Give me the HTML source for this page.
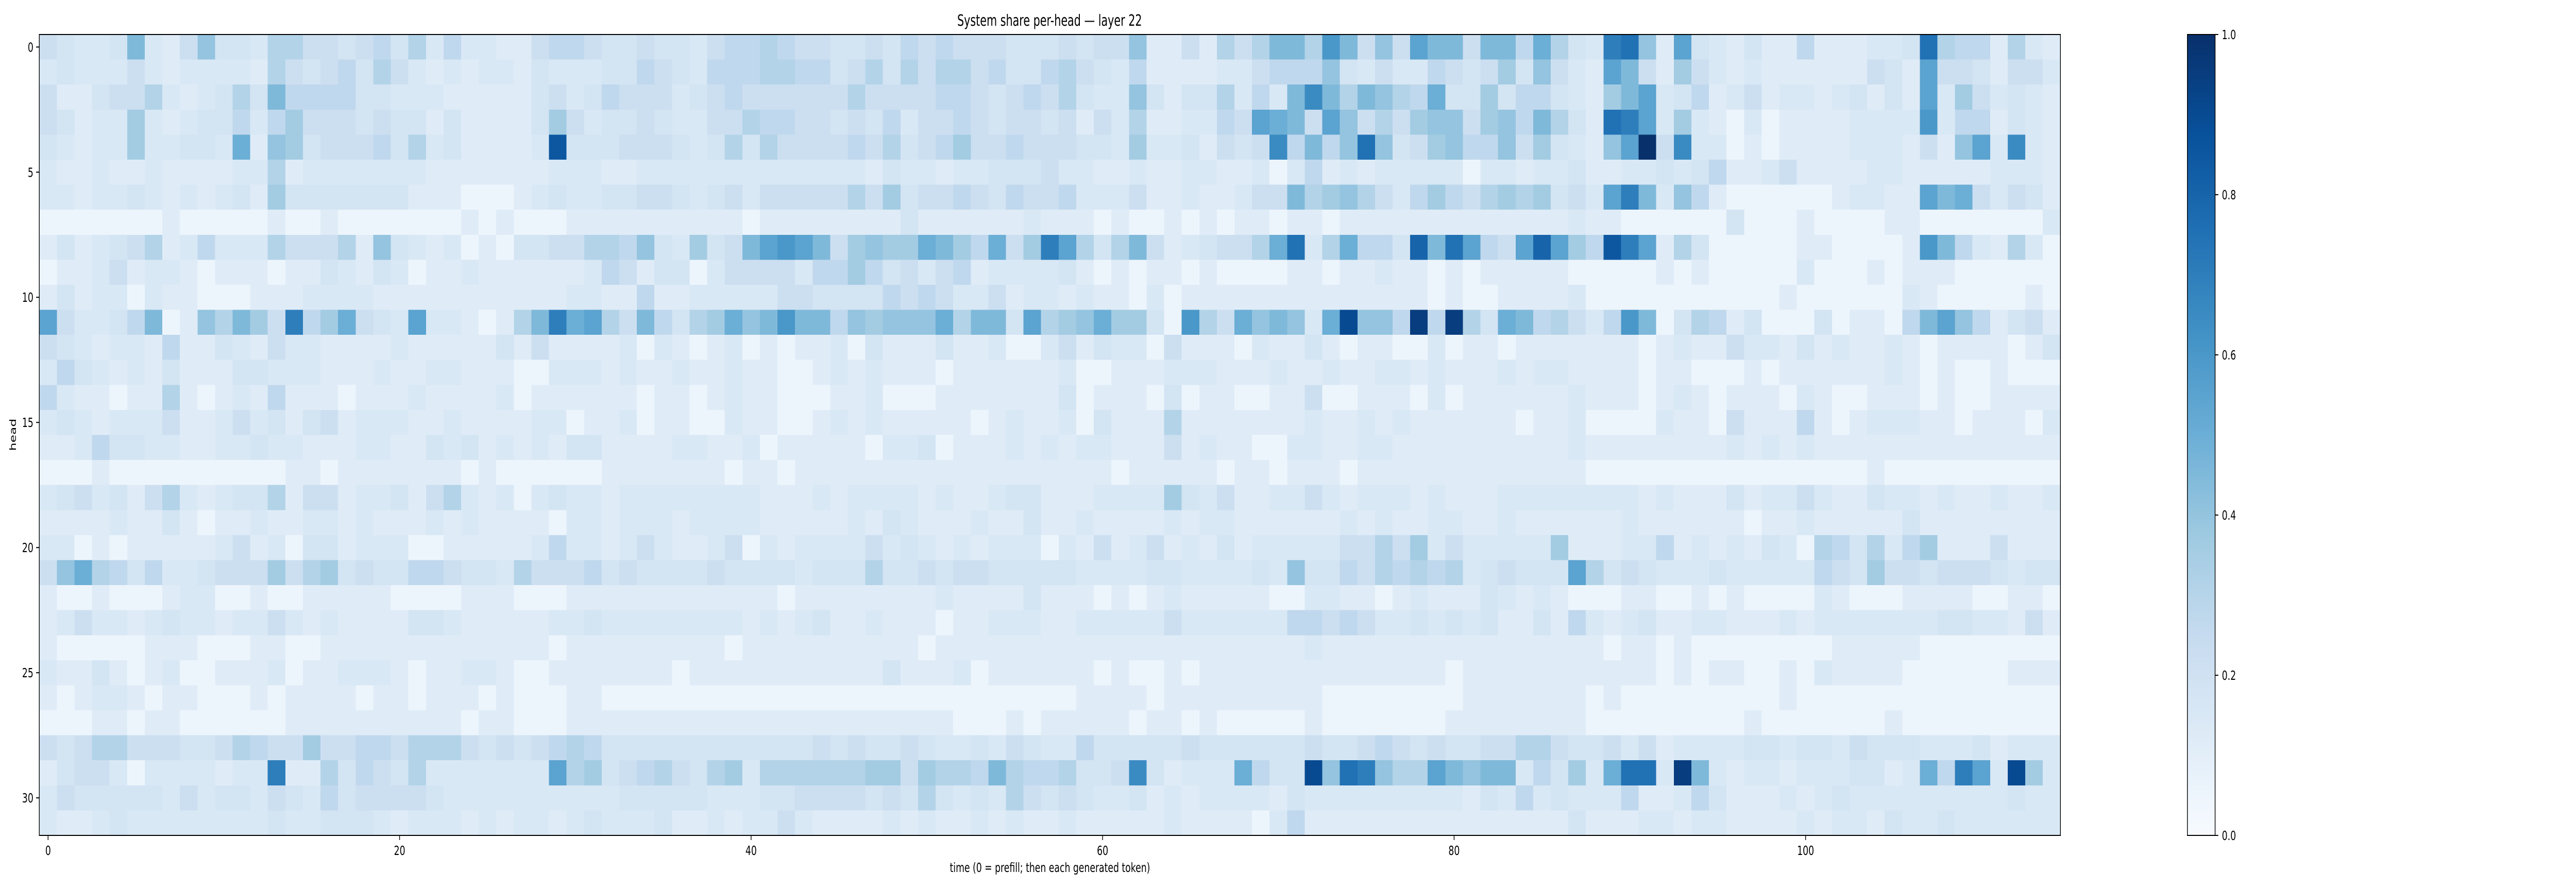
<!DOCTYPE html>
<html>
<head>
<meta charset="utf-8">
<style>
  html, body { margin: 0; padding: 0; background: #ffffff; width: 100%; height: 100%; overflow: hidden; }
  svg { display: block; width: 100vw; height: 100vh; font-family: "DejaVu Sans", "Liberation Sans", sans-serif; }
</style>
</head>
<body>
<svg id="chart" xmlns="http://www.w3.org/2000/svg" viewBox="0 0 7245 1728" preserveAspectRatio="none">
  <rect x="0" y="0" width="7245" height="1728" fill="#ffffff"/>
  <text x="2952" y="50" font-size="30" text-anchor="middle" fill="#000">System share per-head — layer 22</text>
  <g id="cells" shape-rendering="crispEdges"></g>
  <rect x="110.5" y="67" width="5684.5" height="1555" fill="none" stroke="#000" stroke-width="2"/>
  <g id="xticks"></g>
  <g id="yticks"></g>
  <text x="2953" y="1693" font-size="25" text-anchor="middle" fill="#000">time (0 = prefill; then each generated token)</text>
  <text x="0" y="0" font-size="25" text-anchor="middle" fill="#000" transform="translate(45,844) rotate(-90)">head</text>
  <defs>
    <linearGradient id="cbgrad" x1="0" y1="1" x2="0" y2="0">
      <stop offset="0" stop-color="#f7fbff"/>
      <stop offset="0.125" stop-color="#deebf7"/>
      <stop offset="0.25" stop-color="#c6dbef"/>
      <stop offset="0.375" stop-color="#9ecae1"/>
      <stop offset="0.5" stop-color="#6baed6"/>
      <stop offset="0.625" stop-color="#4292c6"/>
      <stop offset="0.75" stop-color="#2171b5"/>
      <stop offset="0.875" stop-color="#08519c"/>
      <stop offset="1" stop-color="#08306b"/>
    </linearGradient>
  </defs>
  <rect x="6152" y="67" width="78" height="1555" fill="url(#cbgrad)" stroke="#000" stroke-width="2"/>
  <g id="cbticks"></g>
</svg>
<script>
// ---- data ----
const times = Array.from({length: 115}, (_, i) => i);
const heads = Array.from({length: 32}, (_, i) => i);
const xTickLabels = ["0", "20", "40", "60", "80", "100"];
const yTickLabels = ["0", "5", "10", "15", "20", "25", "30"];
const cbTickLabels = ["0.0", "0.2", "0.4", "0.6", "0.8", "1.0"];
// each char is a level code (see codeValues), one string per head, columns = time 0..114
const codeChars = "0123456789ABCDEFGHIJK";
const codeValues = [0.05, 0.12, 0.15, 0.18, 0.22, 0.27, 0.31, 0.36, 0.40, 0.45, 0.50, 0.55, 0.60, 0.65, 0.70, 0.75, 0.80, 0.85, 0.90, 0.95, 1.00];
const shareRows = [
  "432239214833266443453625221145" + "5433433245565443343545444333" + "434481141646996C9484B994995A63" + "2EF81B3213115111223F6551621",
  "232224212222164345364212122132" + "2233543255566553463646645335" + "643251111224555832422543473842" + "1B94174212111111431B4431442",
  "411344621236395555332221111134" + "2354442345444444644445543454" + "63228313362529D969865A33735532" + "179B235124122123131B2742321",
  "431227212335257444343313111137" + "4233432244655443435244543443" + "41426112254BA94B84647884785963" + "1FEB272102011112222C2551321",
  "32122722332A18734445362311112H" + "3334443236364444546345744544" + "433272231434D5958F834785584732" + "18BK4D2201011112221418B2D21",
  "211211211112261222222211111112" + "2211222222222222213221223334" + "221121122112025121222220221223" + "112232351124111122111112221",
  "221223212123173333333111000123" + "2233443234244444647344543544" + "522241121124496786425754676734" + "2BE9285100000012211B9A42431",
  "000000010000010010000000101000" + "1111111111011111111311111121" + "110100101011011011111111111112" + "110000003000100001100000002",
  "131234612522264446183212010334" + "46658327349BCB947877A975A47E" + "B63694123446AF26A553G9FB54BGB7" + "5HEB163000001100001C9521620",
  "011241221011101132132011211111" + "1254133024444255753424512222" + "310101101000011011211010111110" + "000010100000200010111000000",
  "131220211000111222211111111111" + "2211511222224433335454224122" + "121102011111111111111010011112" + "000000000001000000210000010",
  "B4223590186974E57A432B2210169E" + "AB6495367A89C99587888A6993B6" + "78A7730C64A8982AI885J5J63A9564" + "25C90365130003011059B851341",
  "432122151132142211112111113141" + "1112021012010112031113112002" + "413220411102113101100201101111" + "111012114221312112101111013",
  "253212131113322211121122111002" + "2212112112110012121110111111" + "200111222111211211221211121221" + "111011000101111112101001000",
  "521101161012151110111211112011" + "1111011012110001120001111111" + "301110301100114001110201111112" + "111012101110210011101001111",
  "232122241124231341222112111122" + "0112011002110012121111101211" + "203111611111112112121111110112" + "000021104111510122211011102",
  "112533221122322111221132312121" + "3311112211201111102230111212" + "122111412110022112211111111112" + "111111112121211111111111111",
  "000100000000001101111111010000" + "0011111110110111111111111111" + "111011111011011101111111111111" + "000000000000000010000000000",
  "234231462123361441223146212023" + "2212222222211121222212112331" + "112222732411224212221211122222" + "222121113122421132212112112",
  "111121131011211221211121211110" + "2212221222211111213211121131" + "121111212211111121211221121111" + "112111111011211111311111111",
  "220101111124120331222001111125" + "2212421124021222242321212220" + "214124121312222244647242222271" + "112251212132065362571114111",
  "48A653522344474673433554332644" + "4534333343333233363343443333" + "32222332222328335465656234333B" + "634322232222254374434443233",
  "100100012200100111110000111000" + "1111111111110111111112111131" + "110101211111002211012111321210" + "001100101000021000111100110",
  "124221232212242121111332111112" + "2322222222121231121110112221" + "122222422222255454223232311315" + "212311221112122222223322141",
  "100000111000110011111111111110" + "1111111110111111111101111111" + "111111111111112111111111111111" + "101101000000001111100000000",
  "211310120011120112221011221001" + "1111110111111111113111201111" + "110100101111111111111101111111" + "111101011001021111000000111",
  "101221011000101111011011101000" + "1100000000000000000000000000" + "011110111111111000000001111111" + "010000000001000000000000000",
  "000110110000001111111111011000" + "1111111111111111111111000101" + "111101101000001000000011111111" + "000000000100000001000000000",
  "434664443346544744554666434345" + "6533333333333343433432232432" + "253333343333334334543433446643" + "342412222332332433322231222",
  "1344202222122E116354362222222B" + "6734564367266666677476659655" + "6334D31222A533I8FE866B98992537" + "2AFF2J9212212223312A5EB2I72",
  "243333324233243253444432222222" + "2223333322233444434363232643" + "432231212222132222222221325232" + "225112531112123222222222322",
  "211232222222232233321222121221" + "2322231121224211112121121211" + "211111211110251111111111111113" + "111221221111212213223222222"
];

// ---- scales ----
const PX0 = 110.5, PX1 = 5795, PY0 = 67, PY1 = 1622;
const nCols = times.length, nRows = heads.length;
const cw = (PX1 - PX0) / nCols, ch = (PY1 - PY0) / nRows;
const xScale = t => PX0 + t * cw;
const yScale = h => PY0 + h * ch;
const cbY = v => PY1 - v * (PY1 - PY0);

const stops = ["#f7fbff","#deebf7","#c6dbef","#9ecae1","#6baed6","#4292c6","#2171b5","#08519c","#08306b"];
function hex(c){ return [parseInt(c.slice(1,3),16), parseInt(c.slice(3,5),16), parseInt(c.slice(5,7),16)]; }
const stopRGB = stops.map(hex);
function blues(v){
  v = Math.max(0, Math.min(1, v));
  const p = v * (stops.length - 1);
  const i = Math.min(stops.length - 2, Math.floor(p));
  const f = p - i;
  const a = stopRGB[i], b = stopRGB[i+1];
  const r = Math.round(a[0] + (b[0]-a[0])*f), g = Math.round(a[1] + (b[1]-a[1])*f), bl = Math.round(a[2] + (b[2]-a[2])*f);
  return "rgb(" + r + "," + g + "," + bl + ")";
}
function decode(c){ const k = codeChars.indexOf(c); return k < 0 ? codeValues[0] : codeValues[k]; }

const NS = "http://www.w3.org/2000/svg";
const cells = document.getElementById("cells");
heads.forEach((h, r) => {
  const row = shareRows[r] || "";
  times.forEach((t, c) => {
    const v = decode(row[c] || "0");
    const el = document.createElementNS(NS, "rect");
    el.setAttribute("x", xScale(t).toFixed(2));
    el.setAttribute("y", yScale(h).toFixed(2));
    el.setAttribute("width", (cw + 0.6).toFixed(2));
    el.setAttribute("height", (ch + 0.6).toFixed(2));
    el.setAttribute("fill", blues(v));
    
    
    cells.appendChild(el);
  });
});

const xg = document.getElementById("xticks");
xTickLabels.forEach(lbl => {
  const t = +lbl;
  const x = xScale(t) + cw / 2;
  const ln = document.createElementNS(NS, "line");
  ln.setAttribute("x1", x); ln.setAttribute("x2", x);
  ln.setAttribute("y1", PY1); ln.setAttribute("y2", PY1 + 9);
  ln.setAttribute("stroke", "#000"); ln.setAttribute("stroke-width", "2");
  
  
  xg.appendChild(ln);
  const tx = document.createElementNS(NS, "text");
  tx.setAttribute("x", x); tx.setAttribute("y", 1660);
  tx.setAttribute("font-size", "25"); tx.setAttribute("text-anchor", "middle");
  tx.textContent = lbl;
  
  
  xg.appendChild(tx);
});

const yg = document.getElementById("yticks");
yTickLabels.forEach(lbl => {
  const h = +lbl;
  const y = yScale(h) + ch / 2;
  const ln = document.createElementNS(NS, "line");
  ln.setAttribute("x1", PX0 - 9); ln.setAttribute("x2", PX0);
  ln.setAttribute("y1", y); ln.setAttribute("y2", y);
  ln.setAttribute("stroke", "#000"); ln.setAttribute("stroke-width", "2");
  
  
  yg.appendChild(ln);
  const tx = document.createElementNS(NS, "text");
  tx.setAttribute("x", 94); tx.setAttribute("y", y + 9);
  tx.setAttribute("font-size", "25"); tx.setAttribute("text-anchor", "end");
  tx.textContent = lbl;
  
  
  yg.appendChild(tx);
});

const cg = document.getElementById("cbticks");
cbTickLabels.forEach(lbl => {
  const v = +lbl;
  const y = cbY(v);
  const ln = document.createElementNS(NS, "line");
  ln.setAttribute("x1", 6230); ln.setAttribute("x2", 6239);
  ln.setAttribute("y1", y); ln.setAttribute("y2", y);
  ln.setAttribute("stroke", "#000"); ln.setAttribute("stroke-width", "2");
  
  
  cg.appendChild(ln);
  const tx = document.createElementNS(NS, "text");
  tx.setAttribute("x", 6249); tx.setAttribute("y", y + 9);
  tx.setAttribute("font-size", "25"); tx.setAttribute("text-anchor", "start");
  tx.textContent = lbl;
  
  
  cg.appendChild(tx);
});
</script>
</body>
</html>
